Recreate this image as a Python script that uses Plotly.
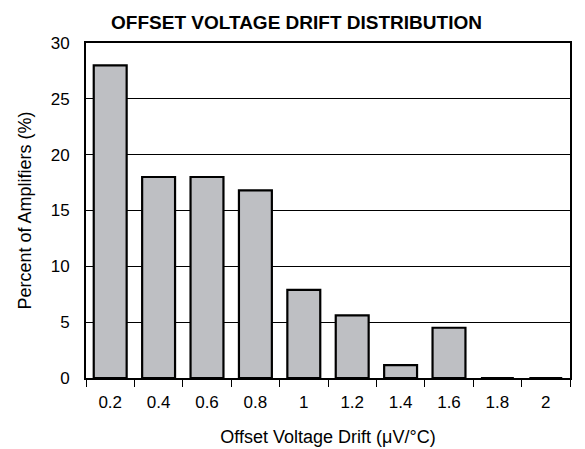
import plotly.graph_objects as go

categories = ["0.2", "0.4", "0.6", "0.8", "1", "1.2", "1.4", "1.6", "1.8", "2"]
percent = [28.0, 18.0, 18.0, 16.8, 7.9, 5.6, 1.15, 4.5, 0, 0]
y_ticks = [0, 5, 10, 15, 20, 25, 30]

fig = go.Figure()
fig.add_trace(go.Bar(
    x=categories, y=percent,
    marker=dict(color="#bebfc3", line=dict(color="black", width=2.2)),
    width=0.68,
))

font_family = "Liberation Sans, Arial, sans-serif"
fig.update_layout(
    width=577, height=441,
    margin=dict(l=78, r=15, t=35, b=71),
    paper_bgcolor="white", plot_bgcolor="white",
    showlegend=False,
    font=dict(family=font_family, size=17, color="black"),
    title=dict(text="<b>OFFSET VOLTAGE DRIFT DISTRIBUTION</b>",
               font=dict(size=19, family=font_family, color="black"),
               x=0.5, xanchor="center", y=0.968, yanchor="middle"),
)
fig.update_xaxes(
    type="category", automargin=False,
    showline=True, linecolor="black", linewidth=2, mirror=True,
    showgrid=False,
    ticks="outside", tickson="boundaries", ticklen=7, tickcolor="black", tickwidth=1,
    ticklabelstandoff=8,
    tickfont=dict(size=17),
    title=dict(text="Offset Voltage Drift (μV/°C)", font=dict(size=18), standoff=19),
)
fig.update_yaxes(
    range=[0, 30], tickvals=y_ticks, automargin=False,
    showline=True, linecolor="black", linewidth=2, mirror=True,
    showgrid=True, gridcolor="black", gridwidth=1,
    ticks="", ticklabelstandoff=11,
    tickfont=dict(size=17),
    zeroline=False,
    title=dict(text="Percent of Amplifiers (%)", font=dict(size=18), standoff=14),
)

fig.write_html("out.html")
